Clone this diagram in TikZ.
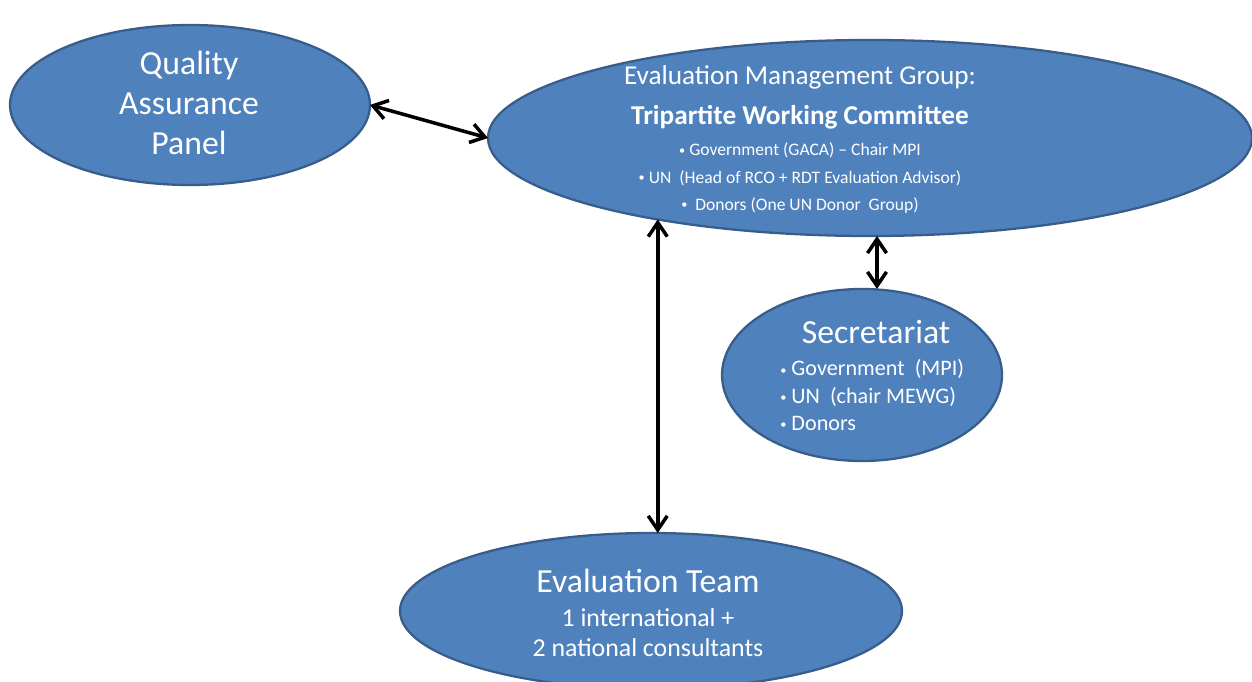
\documentclass[tikz,border=0pt]{standalone}
\usepackage{fontspec}
\setmainfont{Carlito}
\usetikzlibrary{arrows.meta, shapes.geometric}

\definecolor{blobfill}{HTML}{4F81BD}
\definecolor{blobline}{HTML}{385D8A}

\tikzset{
  blob/.style={ellipse, draw=blobline, fill=blobfill, line width=1.3pt, inner sep=0pt, outer sep=0pt},
  words/.style={text=white, inner sep=0pt},
  big/.style={font=\fontsize{19.2}{22.8}\selectfont},
  small/.style={font=\fontsize{10}{15.4}\selectfont},
  link/.style={line width=2pt, {Straight Barb[length=2.8mm,width=3.8mm]}-{Straight Barb[length=2.8mm,width=3.8mm]}}
}
\newcommand{\bul}{{\fontsize{7}{7}\selectfont\raisebox{0.3ex}{•}}\ }

\begin{document}
\begin{tikzpicture}
  \useasboundingbox (0, 0) rectangle (25.04, 13.62);

\node [blob, minimum width=7.2cm, minimum height=3.2cm] (qap) at (3.8, 11.52) {};
\node [blob, minimum width=15.28cm, minimum height=3.92cm] (mgmt) at (17.4, 10.86) {};
\node [blob, minimum width=5.6cm, minimum height=3.44cm] (secr) at (17.24, 6.12) {};
\node [blob, minimum width=10.04cm, minimum height=3.12cm] (team) at (13.02, 1.4) {};

\node [words, big, align=center] (qaplabel) at (3.78, 11.56) {Quality\\Assurance\\Panel};

\node [words, align=center, font=\fontsize{15.5}{22.8}\selectfont] (mgmttitle) at (16.0, 11.68)
  {Evaluation Management Group:\\ \textbf{Tripartite Working Committee}};
\node [words, small, align=center] (mgmtlist) at (16.0, 10.06)
  {\bul Government (GACA) -- Chair MPI\\
   \bul UN\ \ (Head of RCO + RDT Evaluation Advisor)\\
   \bul\ Donors (One UN Donor\ \ Group)};

\node [words, big] (secrtitle) at (17.52, 6.98) {Secretariat};
\node [words, align=left, anchor=west, font=\fontsize{12.6}{15.4}\selectfont] (secrlist) at (15.6, 5.72)
  {\bul Government\ \ (MPI)\\
   \bul UN\ \ (chair MEWG)\\
   \bul Donors};

\node [words, big] (teamtitle) at (12.96, 2.0) {Evaluation Team};
\node [words, align=center, font=\fontsize{14.7}{17}\selectfont] (teamlist) at (12.96, 0.96)
  {1 international +\\2 national consultants};

\draw [link] (qap.east) -- (mgmt.west);
\draw [link] (mgmt.201) -- (mgmt.201 |- team.north);
\draw [link] ([xshift=0.14cm]mgmt.south) -- ([xshift=0.14cm]mgmt.south |- secr.north);

\end{tikzpicture}
\end{document}
